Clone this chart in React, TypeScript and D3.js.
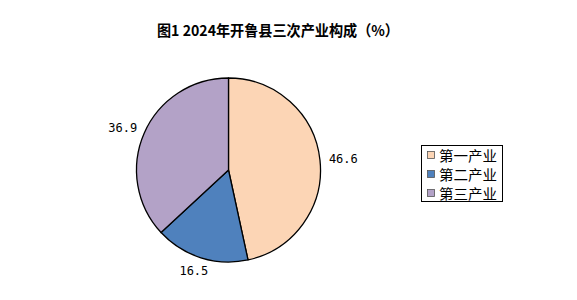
import React from "react";
import * as d3 from "d3";

const categories = ["第一产业", "第二产业", "第三产业"];
const values = [46.6, 16.5, 36.9];
const colors = ["#FCD5B5", "#4F81BD", "#B3A2C7"];
const title = "图1 2024年开鲁县三次产业构成（%）";

export default function App() {
  const W = 577, H = 300;
  const cx = 228.5, cy = 170, r = 92;
  const pie = d3.pie<number>().sort(null).value((d) => d)(values);
  const arc = d3.arc<d3.PieArcDatum<number>>().innerRadius(0).outerRadius(r);
  const lw = 29, lh = 10, gap = 9;
  return (
    <div style={{ position: "fixed", left: 0, top: 0, width: W, height: H, background: "#fff" }}>
      <svg width={W} height={H} style={{ display: "block" }}>
        <rect x={0} y={0} width={W} height={H} fill="#fff" />
        <text x={278} y={29} textAnchor="middle" dominantBaseline="central"
          fontFamily="'Noto Sans CJK SC'" fontWeight="bold" fontSize={15}
          textLength={242} lengthAdjust="spacingAndGlyphs">{title}</text>
        <g transform={`translate(${cx},${cy})`}>
          {pie.map((p, i) => (
            <path key={i} d={arc(p) || ""} fill={colors[i]} stroke="#000" strokeWidth={1.3} strokeLinejoin="round" />
          ))}
          {pie.map((p, i) => {
            const a = (p.startAngle + p.endAngle) / 2;
            const dx = Math.sin(a), dy = -Math.cos(a);
            const x = (r + gap) * dx + dx * lw / 2;
            const y = (r + gap) * dy + dy * lh / 2;
            return (
              <text key={"l" + i} x={x} y={y} textAnchor="middle" dominantBaseline="central"
                fontFamily="'DejaVu Sans Mono'" fontSize={12} fill="#000">{values[i].toFixed(1)}</text>
            );
          })}
        </g>
        <rect x={421.5} y={145.5} width={81} height={56} fill="#fff" stroke="#000" strokeWidth={1} />
        {categories.map((c, i) => (
          <g key={c} transform={`translate(0,${155 + i * 19})`}>
            <rect x={427.5} y={-3.5} width={7} height={7} fill={colors[i]} stroke="#555" strokeWidth={0.8} />
            <text x={439} y={0} dominantBaseline="central" fontFamily="'Noto Sans CJK SC'" fontSize={14}
              fill="#000" textLength={58} lengthAdjust="spacingAndGlyphs">{c}</text>
          </g>
        ))}
      </svg>
    </div>
  );
}
